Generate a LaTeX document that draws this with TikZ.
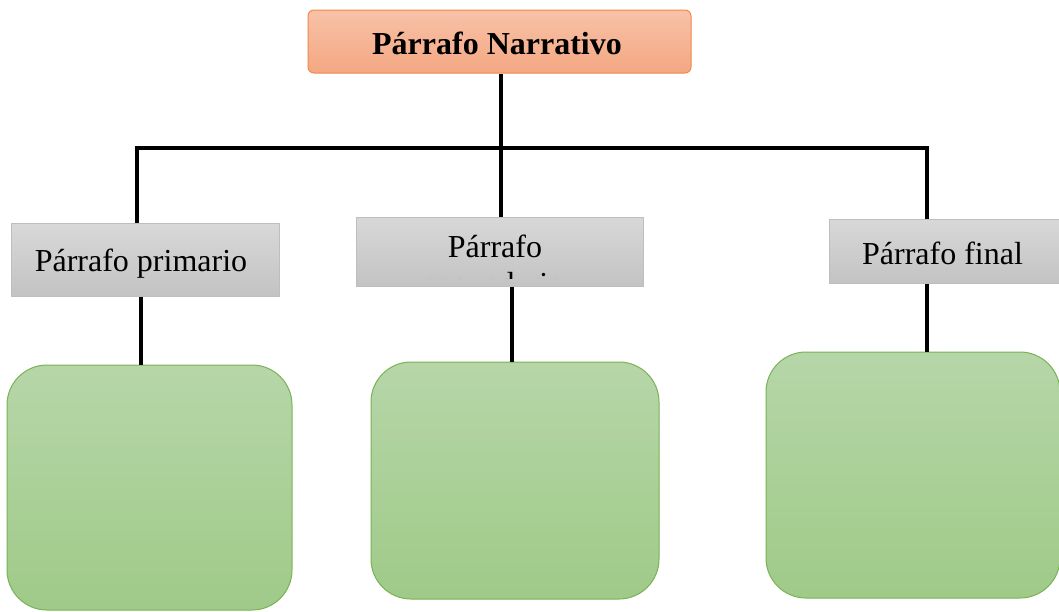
\documentclass[tikz,border=0pt]{standalone}
\usepackage{fontspec}
\setmainfont{Liberation Serif}
\definecolor{orTop}{HTML}{F8C2A8}
\definecolor{orBot}{HTML}{F4A782}
\definecolor{orLine}{HTML}{EE8A4A}
\definecolor{grTop}{HTML}{D8D8D8}
\definecolor{grBot}{HTML}{C3C3C3}
\definecolor{grLine}{HTML}{BEBEBE}
\definecolor{gnTop}{HTML}{B6D6A8}
\definecolor{gnBot}{HTML}{9FCA88}
\definecolor{gnLine}{HTML}{7AB255}
\tikzset{
  titlebox/.style={draw=orLine, line width=1pt, top color=orTop, bottom color=orBot, rounded corners=6pt, inner sep=0pt, font=\fontsize{32}{37}\selectfont\bfseries},
  graybox/.style={draw=grLine, line width=1pt, top color=grTop, bottom color=grBot, inner sep=0pt},
  graytext/.style={font=\fontsize{32}{37}\selectfont, inner sep=0pt},
  greenbox/.style={draw=gnLine, line width=1pt, top color=gnTop, bottom color=gnBot, rounded corners=40pt, inner sep=0pt},
  conn/.style={line width=4pt, black, line join=miter}
}
\begin{document}
\begin{tikzpicture}[x=1pt,y=-1pt]
\clip (0,0) rectangle (1059,611);
\fill[white] (0,0) rectangle (1059,611);
% top
\node[titlebox, minimum width=383pt, minimum height=63pt] (top) at (499.5,41.5) {};
\node[graytext, font=\fontsize{32}{37}\selectfont\bfseries, anchor=base] (tt) at (497,54) {Párrafo Narrativo};
% gray boxes
\node[graybox, minimum width=268pt, minimum height=73pt] (g1) at (145,259.5) {};
\node[graytext, anchor=base] (t1) at (141,271) {Párrafo primario};
\node[graybox, minimum width=287pt, minimum height=69pt] (g2) at (499.5,251.5) {};
\node[graytext, anchor=base] (t2a) at (495,257) {Párrafo};
\begin{scope}
\clip (356,217) rectangle (643,278);
\node[graytext, anchor=base] (t2b) at (495,294) {secundario};
\end{scope}
\node[graybox, minimum width=233pt, minimum height=64pt] (g3) at (945.5,251) {};
\node[graytext, anchor=base] (t3) at (942.5,264) {Párrafo final};
% green boxes
\node[greenbox, minimum width=285pt, minimum height=245pt] (b1) at (149.5,487.5) {};
\node[greenbox, minimum width=288pt, minimum height=237pt] (b2) at (515,480.5) {};
\node[greenbox, minimum width=294pt, minimum height=246pt] (b3) at (913,475) {};
% connectors
\coordinate (J) at (501,148);
\coordinate (JL) at (137,148);
\coordinate (JR) at (927,148);
\draw[conn] (top.south -| J) -- (J);
\draw[conn] (g1.north -| JL) -- (JL) -- (JR) -- (g3.north -| JR);
\draw[conn] (J) -- (g2.north -| J);
\coordinate (c1) at (141,0);
\coordinate (c2) at (512,0);
\coordinate (c3) at (927,0);
\draw[conn] (g1.south -| c1) -- (b1.north -| c1);
\draw[conn] (g2.south -| c2) -- (b2.north -| c2);
\draw[conn] (g3.south -| c3) -- (b3.north -| c3);
\end{tikzpicture}
\end{document}
